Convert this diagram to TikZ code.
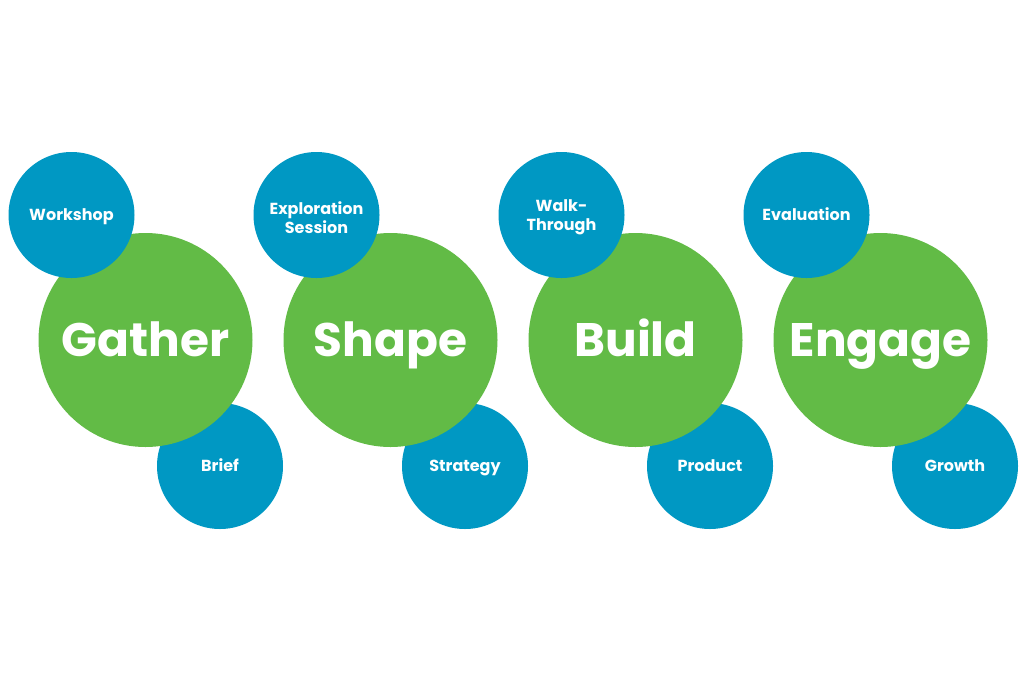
\documentclass[tikz,border=0pt]{standalone}
\usepackage{fontspec}
\setmainfont{Poppins}[UprightFont=* Bold, BoldFont=* Bold]
\definecolor{cgreen}{HTML}{62BB46}
\definecolor{cblue}{HTML}{0098C3}
\begin{document}
\begin{tikzpicture}[x=1pt,y=-1pt,
  big/.style={circle,fill=cgreen,minimum size=214pt,inner sep=0pt,text=white,text height=33pt,text depth=0pt,font=\fontsize{47}{47}\selectfont},
  small/.style={circle,fill=cblue,minimum size=126pt,inner sep=0pt,text=white,align=center,text height=11.2pt,text depth=0pt,font=\fontsize{16}{19.5}\selectfont},
  twoline/.style={inner sep=0pt,text=white,align=center,font=\fontsize{16}{19.5}\selectfont}]
\useasboundingbox (0,0) rectangle (1024,683);
\fill[white] (0,0) rectangle (1024,683);
% bottom blue circles (behind green)
\node[small] (brief) at (220,466) {Brief};
\node[small] (strategy) at (465,466) {Strategy};
\node[small] (product) at (710,466) {Product};
\node[small] (growth) at (955,466) {Growth};
% green circles
\node[big] (gather) at (145.5,340) {Gather};
\node[big] (shape) at (390.5,340) {Shape};
\node[big] (build) at (635.5,340) {Build};
\node[big] (engage) at (880.5,340) {Engage};
% top blue circles (in front)
\node[small] (workshop) at (71.5,215) {Workshop};
\node[small] (exploration) at (316.5,215) {};
\node[twoline] (explorationtext) at (316.5,217.5) {Exploration\\Session};
\node[small] (walk) at (561.5,215) {};
\node[twoline] (walktext) at (561.5,217.5) {Walk-\\Through};
\node[small] (evaluation) at (806.5,215) {Evaluation};
\end{tikzpicture}
\end{document}
